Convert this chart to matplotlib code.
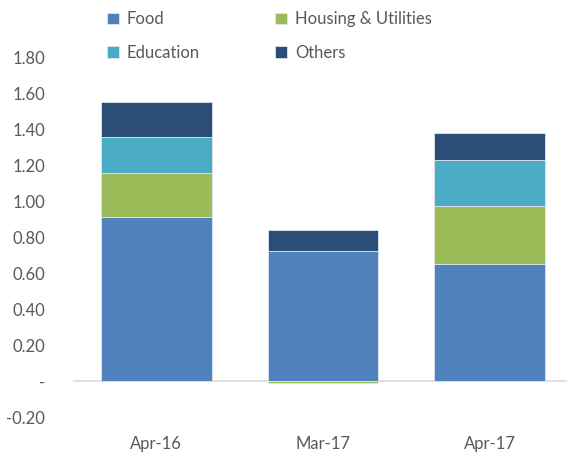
import numpy as np
import matplotlib.pyplot as plt

plt.rcParams["font.family"] = ["Lato", "DejaVu Sans"]

categories = ["Apr-16", "Mar-17", "Apr-17"]
series = ["Food", "Housing & Utilities", "Education", "Others"]
food = [0.91, 0.72, 0.65]
housing = [0.245, -0.01, 0.32]
education = [0.20, 0.0, 0.26]
others = [0.195, 0.12, 0.15]
ticks = [-0.2, 0, 0.2, 0.4, 0.6, 0.8, 1.0, 1.2, 1.4, 1.6, 1.8]
colors = ["#4F81BD", "#9BBB59", "#4BACC6", "#2C4D75"]
grey = "#595959"

fig = plt.figure(figsize=(5.67, 4.53), dpi=100)
ax = fig.add_axes([73/567, 1 - 417/453, 500/567, 360/453])

x = np.arange(len(categories))
pos = np.zeros(len(categories))
neg = np.zeros(len(categories))
bars = []
for name, vals, c in zip(series, [food, housing, education, others], colors):
    vals = np.array(vals)
    bottom = np.where(vals >= 0, pos, neg)
    b = ax.bar(x, vals, 0.665, bottom=bottom, color=c, label=name,
               edgecolor="#dfe6ee", linewidth=0.6)
    bars.append(b)
    pos = pos + np.clip(vals, 0, None)
    neg = neg + np.clip(vals, None, 0)

ax.axhline(0, color="#d9d9d9", lw=1.2, zorder=0)
ax.set_xlim(-0.5, 2.5)
ax.set_ylim(-0.2, 1.8)
ax.set_yticks(ticks)
ax.set_yticklabels(["-" if t == 0 else f"{t:.2f}" for t in ticks])
ax.set_xticks(x)
ax.set_xticklabels(categories)
ax.tick_params(axis="y", length=0, pad=20, labelsize=12, labelcolor=grey)
ax.tick_params(axis="x", length=0, pad=14, labelsize=12, labelcolor=grey)
for s in ax.spines.values():
    s.set_visible(False)

# row-major order like the original legend
order = [0, 2, 1, 3]
leg = fig.legend([bars[i] for i in order], [series[i] for i in order],
                 loc="upper left", bbox_to_anchor=(92/567, 1.008), ncol=2,
                 frameon=False, fontsize=12, handlelength=0.7, handleheight=0.7,
                 handletextpad=0.5, columnspacing=4.5, labelspacing=1.05)
for t in leg.get_texts():
    t.set_color(grey)

plt.savefig("out.png", dpi=100)
plt.close()
